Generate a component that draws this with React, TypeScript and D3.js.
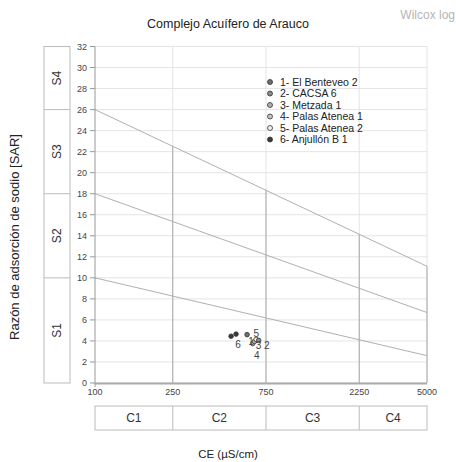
import * as d3 from 'd3';

// Axis ticks / class bounds
const CE_TICKS = [100, 250, 750, 2250, 5000];
const SAR_TICKS = [0, 2, 4, 6, 8, 10, 12, 14, 16, 18, 20, 22, 24, 26, 28, 30, 32];
const C_CLASSES = ['C1', 'C2', 'C3', 'C4'];
const S_CLASSES = ['S1', 'S2', 'S3', 'S4'];
const S_BOUNDS = [0, 10, 18, 26, 32];

// Salinity/sodicity boundary lines (SAR at CE=100 and CE=5000)
const LINE_START = [10, 18, 26];
const LINE_END = [2.6, 6.7, 11.1];

// Wells
const SERIES = ['1- El Benteveo 2', '2- CACSA 6', '3- Metzada 1', '4- Palas Atenea 1', '5- Palas Atenea 2', '6- Anjullón B 1'];
const SERIES_FILL = ['#6e6e6e', '#8a8a8a', '#b0b0b0', '#c4c4c4', '#f2f2f2', '#3a3a3a'];
const POINT_SERIES = [6, 6, 1, 4, 3, 5, 2];
const POINT_CE = [497, 527, 600, 641, 655, 668, 688];
const POINT_SAR = [4.45, 4.65, 4.6, 3.75, 3.95, 4.15, 4.05];
const POINT_LABEL = ['6', '', '1', '4', '3', '5', '2'];
const LABEL_DX = [7, 0, 4, 4, 4, 0, 8];
const LABEL_DY = [8, 0, 7, 12, 4, -6, 5];

const W = 456;
const H = 462;
const FONT = 'Arial, "Liberation Sans", sans-serif';

export default function App() {
  const x = d3.scaleLog().domain([100, 5000]).range([95, 427]);
  const y = d3.scaleLinear().domain([0, 32]).range([383, 46.5]);

  const lineAt = (i: number, ce: number) => {
    const t = Math.log10(ce / 100) / Math.log10(50);
    return LINE_START[i] + (LINE_END[i] - LINE_START[i]) * t;
  };

  const sBox = { x0: 44, x1: 70 };
  const cBox = { y0: 406, y1: 430 };

  return (
    <svg width={W} height={H} style={{ position: 'absolute', left: 0, top: 0 }} fontFamily={FONT}>
      <rect width={W} height={H} fill="#fff" />

      <text x={228} y={28} textAnchor="middle" fontSize={12.5} fill="#222">Complejo Acuífero de Arauco</text>
      <text x={455} y={19} textAnchor="end" fontSize={12} fill="#b5b5b5">Wilcox log</text>

      {/* horizontal gridlines */}
      {SAR_TICKS.map((v) => (
        <line key={'h' + v} x1={x(100)} x2={x(5000)} y1={y(v)} y2={y(v)} stroke="#e4e4e4" strokeWidth={1} />
      ))}
      {/* light vertical gridlines */}
      {CE_TICKS.slice(1).map((v) => (
        <line key={'v' + v} x1={x(v)} x2={x(v)} y1={y(32)} y2={y(0)} stroke="#e4e4e4" strokeWidth={1} />
      ))}
      {/* class dividers below the top boundary line */}
      {CE_TICKS.slice(1).map((v) => (
        <line key={'d' + v} x1={x(v)} x2={x(v)} y1={y(lineAt(2, v))} y2={y(0)} stroke="#a8a8a8" strokeWidth={1} />
      ))}
      {/* boundary lines */}
      {LINE_START.map((s, i) => (
        <line key={'b' + i} x1={x(100)} x2={x(5000)} y1={y(s)} y2={y(LINE_END[i])} stroke="#b0b0b0" strokeWidth={1} />
      ))}

      {/* y axis */}
      <line x1={x(100)} x2={x(100)} y1={y(32)} y2={y(0)} stroke="#999" strokeWidth={1} />
      {SAR_TICKS.map((v) => (
        <g key={'yt' + v}>
          <line x1={x(100) - 5} x2={x(100)} y1={y(v)} y2={y(v)} stroke="#999" />
          <text x={x(100) - 8} y={y(v)} dy="0.35em" textAnchor="end" fontSize={9} fill="#444">{v}</text>
        </g>
      ))}
      {/* x axis */}
      <line x1={x(100)} x2={x(5000)} y1={y(0) + 0.5} y2={y(0) + 0.5} stroke="#aaa" strokeWidth={2} />
      <line x1={x(100)} x2={x(100)} y1={y(0)} y2={y(0) + 4} stroke="#999" />
      {CE_TICKS.map((v) => (
        <text key={'xt' + v} x={x(v)} y={395} textAnchor="middle" fontSize={9} fill="#444">{v}</text>
      ))}

      {/* S class box */}
      <rect x={sBox.x0} y={y(32)} width={sBox.x1 - sBox.x0} height={y(0) - y(32)} fill="none" stroke="#bbb" />
      {S_CLASSES.map((c, i) => {
        const yMid = (y(S_BOUNDS[i]) + y(S_BOUNDS[i + 1])) / 2;
        return (
          <g key={c}>
            {i > 0 && <line x1={sBox.x0} x2={sBox.x1} y1={y(S_BOUNDS[i])} y2={y(S_BOUNDS[i])} stroke="#bbb" />}
            <text transform={`translate(${(sBox.x0 + sBox.x1) / 2},${yMid}) rotate(-90)`} dy="0.35em" textAnchor="middle" fontSize={12} fill="#333">{c}</text>
          </g>
        );
      })}

      {/* C class box */}
      <rect x={x(100)} y={cBox.y0} width={x(5000) - x(100)} height={cBox.y1 - cBox.y0} fill="none" stroke="#bbb" />
      {C_CLASSES.map((c, i) => {
        const xMid = (x(CE_TICKS[i]) + x(CE_TICKS[i + 1])) / 2;
        return (
          <g key={c}>
            {i > 0 && <line x1={x(CE_TICKS[i])} x2={x(CE_TICKS[i])} y1={cBox.y0} y2={cBox.y1} stroke="#bbb" />}
            <text x={xMid} y={(cBox.y0 + cBox.y1) / 2} dy="0.35em" textAnchor="middle" fontSize={12} fill="#333">{c}</text>
          </g>
        );
      })}

      {/* axis titles */}
      <text x={228} y={458} textAnchor="middle" fontSize={11.5} fill="#222">CE (µS/cm)</text>
      <text transform={`translate(14,237) rotate(-90)`} dy="0.35em" textAnchor="middle" fontSize={13} fill="#222">Razón de adsorción de sodio [SAR]</text>

      {/* legend */}
      {SERIES.map((s, i) => (
        <g key={s} transform={`translate(270,${82 + i * 11.5})`}>
          <circle r={2.5} fill={SERIES_FILL[i]} stroke="#333" strokeWidth={0.8} />
          <text x={10} dy="0.35em" fontSize={10.5} fill="#222">{s}</text>
        </g>
      ))}

      {/* points */}
      {POINT_CE.map((ce, i) => (
        <circle key={'p' + i} cx={x(ce)} cy={y(POINT_SAR[i])} r={2.3} fill={SERIES_FILL[POINT_SERIES[i] - 1]} stroke="#333" strokeWidth={0.8} />
      ))}
      {POINT_CE.map((ce, i) => (
        POINT_LABEL[i] && (
          <text key={'l' + i} x={x(ce) + LABEL_DX[i]} y={y(POINT_SAR[i]) + LABEL_DY[i]} dy="0.35em" textAnchor="middle" fontSize={10} fill="#444">{POINT_LABEL[i]}</text>
        )
      ))}
    </svg>
  );
}
